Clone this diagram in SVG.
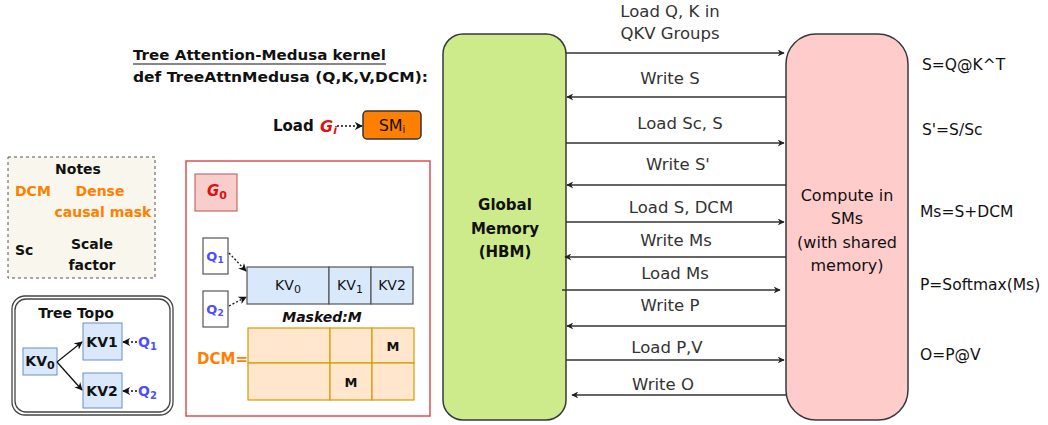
<svg xmlns="http://www.w3.org/2000/svg" width="1048" height="425" viewBox="0 0 1048 425">
  <defs>
    <marker id="arr" viewBox="0 0 10 10" refX="9" refY="5" markerWidth="7" markerHeight="7" orient="auto" markerUnits="userSpaceOnUse">
      <path d="M0,0 L10,5 L0,10 L3,5 z" fill="#222"/>
    </marker>
    <marker id="arrS" viewBox="0 0 10 10" refX="9" refY="5" markerWidth="8" markerHeight="8" orient="auto" markerUnits="userSpaceOnUse">
      <path d="M0,0 L10,5 L0,10 L3,5 z" fill="#111"/>
    </marker>
    <style>
      text { font-family: "DejaVu Sans", "Liberation Sans", sans-serif; dominant-baseline: central; }
      .lbl { font-size: 16.5px; fill: #333; text-anchor: middle; }
      .frm { font-size: 15.5px; fill: #111; }
      .big { font-size: 15px; fill: #111; text-anchor: middle; }
      .b { font-weight: bold; }
      .org { fill: #ff8000; font-weight: bold; }
      .blu { fill: #4d4dff; font-weight: bold; }
      .red { fill: #e01010; font-style: italic; font-weight: bold; }
      .flow { stroke: #333; stroke-width: 1.5; fill: none; marker-end: url(#arr); }
      .thin { stroke: #111; stroke-width: 1.3; fill: none; marker-end: url(#arrS); }
      .dot { stroke: #111; stroke-width: 1.3; fill: none; stroke-dasharray: 2 2; marker-end: url(#arrS); }
      .kv { fill: #dae8fc; stroke: #6c8ebf; stroke-width: 1; }
      .kvd { fill: #dae8fc; stroke: #555; stroke-width: 1.2; }
      .dcm { fill: #ffe6cc; stroke: #d79b00; stroke-width: 1.2; }
      .qbox { fill: #fff; stroke: #555; stroke-width: 1.2; }
    </style>
  </defs>

  <!-- kernel title -->
  <g id="kernel-title">
    <text x="133" y="55" class="b" style="font-size:14px;fill:#111" textLength="253" lengthAdjust="spacingAndGlyphs">Tree Attention-Medusa kernel</text>
    <line x1="133" y1="64" x2="386" y2="64" stroke="#111" stroke-width="1.2"/>
    <text x="133" y="77" class="b" style="font-size:14px;fill:#111" textLength="295" lengthAdjust="spacingAndGlyphs">def TreeAttnMedusa (Q,K,V,DCM):</text>
  </g>

  <!-- load legend -->
  <g id="load-legend">
    <text x="273" y="126" class="b" style="font-size:15px;fill:#111">Load</text>
    <text x="320" y="126" class="red" style="font-size:16px">G<tspan dy="4" style="font-size:11px">i</tspan></text>
    <rect x="363" y="111" width="58" height="28" rx="4" fill="#ff8000" stroke="#333" stroke-width="1.5"/>
    <text x="392" y="125" class="big" style="font-size:16px">SM<tspan dy="4" style="font-size:10px">i</tspan></text>
  </g>

  <!-- notes -->
  <g id="notes">
    <rect x="8" y="157" width="147" height="121" fill="#f9f7ed" stroke="#555" stroke-width="1" stroke-dasharray="3 3"/>
    <text x="78" y="169" class="big b" style="font-size:14px">Notes</text>
    <text x="15" y="191" class="org" style="font-size:14px">DCM</text>
    <text x="100" y="191" class="org" style="font-size:14px;text-anchor:middle">Dense</text>
    <text x="103" y="212" class="org" style="font-size:14px;text-anchor:middle">causal mask</text>
    <text x="15" y="250" class="b" style="font-size:14px;fill:#111">Sc</text>
    <text x="92" y="244" class="big b" style="font-size:14px">Scale</text>
    <text x="92" y="265" class="big b" style="font-size:14px">factor</text>
  </g>

  <!-- tree topology -->
  <g id="tree-topo">
    <rect x="12" y="296" width="161" height="119" rx="13" fill="#fff" stroke="#444" stroke-width="1.3"/>
    <rect x="15" y="299" width="155" height="113" rx="11" fill="none" stroke="#444" stroke-width="1.3"/>
    <text x="76" y="313" class="big b" style="font-size:14px">Tree Topo</text>
  </g>
  <g id="tree-kv0">
    <rect x="23" y="348" width="34" height="27" class="kv"/>
    <text x="40" y="361" class="big b" style="font-size:14px">KV<tspan dy="4" style="font-size:11px">0</tspan></text>
  </g>
  <g id="tree-kv1">
    <rect x="83" y="323" width="39" height="37" class="kv"/>
    <text x="102" y="342" class="big b" style="font-size:14px">KV1</text>
  </g>
  <g id="tree-kv2">
    <rect x="83" y="373" width="39" height="35" class="kv"/>
    <text x="102" y="391" class="big b" style="font-size:14px">KV2</text>
  </g>
  <g id="tree-q">
    <text x="138" y="342" class="blu" style="font-size:14px">Q<tspan dy="4" style="font-size:10px">1</tspan></text>
    <text x="138" y="391" class="blu" style="font-size:14px">Q<tspan dy="4" style="font-size:10px">2</tspan></text>
  </g>

  <!-- group G0 block -->
  <g id="group-frame">
    <rect x="186" y="161" width="244" height="255" fill="#fff" stroke="#e05050" stroke-width="1.5"/>
  </g>
  <g id="g0">
    <rect x="195" y="174" width="42" height="37" fill="#f8cecc" stroke="#b85450" stroke-width="1"/>
    <text x="207" y="191" class="red" style="font-size:15px">G<tspan dy="4" style="font-size:11px;font-style:normal">0</tspan></text>
  </g>
  <g id="q1">
    <rect x="203" y="238" width="25" height="36" class="qbox"/>
    <text x="215" y="256" class="blu" style="font-size:13px;text-anchor:middle">Q<tspan dy="4" style="font-size:9px">1</tspan></text>
  </g>
  <g id="q2">
    <rect x="203" y="291" width="25" height="36" class="qbox"/>
    <text x="215" y="309" class="blu" style="font-size:13px;text-anchor:middle">Q<tspan dy="4" style="font-size:9px">2</tspan></text>
  </g>
  <g id="kv-row">
    <rect x="247" y="267" width="82" height="37" class="kvd"/>
    <rect x="329" y="267" width="42" height="37" class="kvd"/>
    <rect x="371" y="267" width="42" height="37" class="kvd"/>
    <text x="288" y="285" class="big" style="font-size:14px">KV<tspan dy="4" style="font-size:11px">0</tspan></text>
    <text x="350" y="285" class="big" style="font-size:14px">KV<tspan dy="4" style="font-size:11px">1</tspan></text>
    <text x="392" y="285" class="big" style="font-size:14px">KV2</text>
  </g>
  <g id="mask-label">
    <text x="322" y="317" class="big b" style="font-size:14px;font-style:italic">Masked:M</text>
  </g>
  <g id="dcm-grid">
    <text x="197" y="359" class="org" style="font-size:15px">DCM=</text>
    <rect x="248" y="328" width="82" height="35" class="dcm"/>
    <rect x="330" y="328" width="42" height="35" class="dcm"/>
    <rect x="372" y="328" width="42" height="35" class="dcm"/>
    <rect x="248" y="363" width="82" height="37" class="dcm"/>
    <rect x="330" y="363" width="42" height="37" class="dcm"/>
    <rect x="372" y="363" width="42" height="37" class="dcm"/>
    <text x="393" y="346" class="big b" style="font-size:13px">M</text>
    <text x="351" y="382" class="big b" style="font-size:13px">M</text>
  </g>

  <!-- memory and compute -->
  <g id="global-memory">
    <rect x="443" y="34" width="123" height="386" rx="20" fill="#cdeb8b" stroke="#36393d" stroke-width="1.5"/>
    <text x="505" y="205" class="big b">Global</text>
    <text x="505" y="229" class="big b">Memory</text>
    <text x="505" y="252" class="big b">(HBM)</text>
  </g>
  <g id="compute-sm">
    <rect x="786" y="34" width="122" height="386" rx="30" fill="#ffcccc" stroke="#36393d" stroke-width="1.5"/>
    <text x="847" y="195" class="big" style="font-size:16px">Compute in</text>
    <text x="847" y="218" class="big" style="font-size:16px">SMs</text>
    <text x="847" y="242" class="big" style="font-size:16px">(with shared</text>
    <text x="847" y="265" class="big" style="font-size:16px">memory)</text>
  </g>

  <!-- formulas -->
  <g id="formulas">
    <text x="922" y="65" class="frm">S=Q@K^T</text>
    <text x="922" y="130" class="frm">S'=S/Sc</text>
    <text x="920" y="212" class="frm">Ms=S+DCM</text>
    <text x="920" y="285" class="frm">P=Softmax(Ms)</text>
    <text x="920" y="355" class="frm">O=P@V</text>
  </g>

  <!-- connectors -->
  <g id="connectors">
    <path class="flow" d="M566,53 H784"/>
    <path class="flow" d="M786,97 H567"/>
    <path class="flow" d="M566,143 H784"/>
    <path class="flow" d="M786,185 H567"/>
    <path class="flow" d="M566,222 H784"/>
    <path class="flow" d="M786,257 H565"/>
    <path class="flow" d="M562,290 H780"/>
    <path class="flow" d="M786,326 H567"/>
    <path class="flow" d="M566,360 H784"/>
    <path class="flow" d="M786,395 H572"/>

    <path class="thin" d="M57,362 L82,342"/>
    <path class="thin" d="M57,362 L82,390"/>
    <path class="dot" d="M137,342 H123"/>
    <path class="dot" d="M137,391 H123"/>

    <path class="dot" d="M229,253 L246,271"/>
    <path class="dot" d="M229,306 L246,297"/>
    <path class="dot" d="M337,126 H362"/>
  </g>

  <!-- connector labels -->
  <g id="connector-labels">
    <text x="670" y="11" class="lbl">Load Q, K in</text>
    <text x="670" y="33" class="lbl">QKV Groups</text>
    <text x="670" y="78" class="lbl">Write S</text>
    <text x="680" y="123" class="lbl">Load Sc, S</text>
    <text x="678" y="164" class="lbl">Write S'</text>
    <text x="681" y="207" class="lbl">Load S, DCM</text>
    <text x="676" y="240" class="lbl">Write Ms</text>
    <text x="675" y="273" class="lbl">Load Ms</text>
    <text x="670" y="305" class="lbl">Write P</text>
    <text x="667" y="347" class="lbl">Load P,V</text>
    <text x="663" y="384" class="lbl">Write O</text>
  </g>
</svg>
